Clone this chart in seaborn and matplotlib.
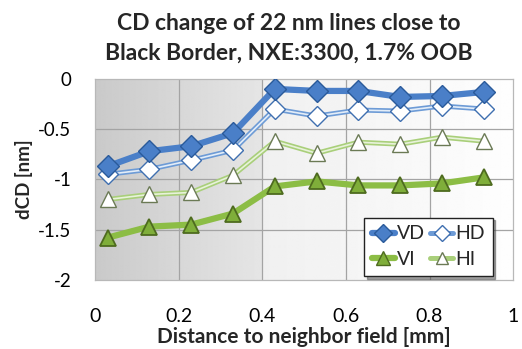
import numpy as np
import pandas as pd
import matplotlib
matplotlib.use("Agg")
import matplotlib.pyplot as plt
import seaborn as sns
from matplotlib.lines import Line2D

# ---- data ----
distance = [0.03, 0.13, 0.23, 0.33, 0.43, 0.53, 0.63, 0.73, 0.83, 0.93]
vd = [-0.87, -0.72, -0.67, -0.54, -0.10, -0.12, -0.12, -0.18, -0.17, -0.13]
hd = [-0.95, -0.90, -0.81, -0.71, -0.30, -0.37, -0.31, -0.32, -0.27, -0.30]
vi = [-1.58, -1.47, -1.45, -1.34, -1.07, -1.02, -1.06, -1.06, -1.04, -0.98]
hi = [-1.20, -1.15, -1.13, -0.96, -0.62, -0.74, -0.63, -0.65, -0.58, -0.62]
x_ticks = [0, 0.2, 0.4, 0.6, 0.8, 1]
x_tick_labels = ["0", "0.2", "0.4", "0.6", "0.8", "1"]
y_ticks = [0, -0.5, -1, -1.5, -2]
y_tick_labels = ["0", "-0.5", "-1", "-1.5", "-2"]
title = "CD change of 22 nm lines close to\nBlack Border, NXE:3300, 1.7% OOB"

df = pd.DataFrame({"x": distance, "VD": vd, "HD": hd, "VI": vi, "HI": hi})

sns.set_style("white")
plt.rcParams["font.family"] = ["Lato", "DejaVu Sans"]

fig = plt.figure(figsize=(5.22, 3.49), dpi=100)
ax = fig.add_axes([0.182, 0.198, 0.801, 0.576])

# background gradient
nx = 400
xs = np.linspace(0, 1, nx)
col = np.where(xs < 0.4, 0.79 + (0.90 - 0.79) * xs / 0.4,
               0.94 + (0.995 - 0.94) * (xs - 0.4) / 0.6)
img = np.tile(col, (20, 1))
ax.imshow(img, extent=[0, 1, -2, 0], origin="upper", cmap="gray", vmin=0, vmax=1,
          aspect="auto", zorder=0, interpolation="bilinear")

ax.set_xlim(0, 1)
ax.set_ylim(-2, 0)
ax.set_xticks(x_ticks)
ax.set_xticklabels(x_tick_labels)
ax.set_yticks(y_ticks)
ax.set_yticklabels(y_tick_labels)
for v in x_ticks[1:-1]:
    ax.axvline(v, color="#a4a4a4", lw=0.9, zorder=1)
for v in y_ticks[1:-1]:
    ax.axhline(v, color="#a4a4a4", lw=0.9, zorder=1)
for s in ax.spines.values():
    s.set_color("#b8b8b8")
    s.set_linewidth(0.9)

blue = "#4a7fc8"
blue_dark = "#2a5a9a"
green = "#8cbd45"
green_light = "#a9cf7a"
olive = "#4e6b1f"

# HI: light green double line, hollow triangles
sns.lineplot(data=df, x="x", y="HI", ax=ax, color=green_light, lw=3.6, zorder=3)
sns.lineplot(data=df, x="x", y="HI", ax=ax, color="#e8f2da", lw=1.2, zorder=3.1,
             marker="^", markersize=11, markerfacecolor="white",
             markeredgecolor="#6b7a55", markeredgewidth=1.0)
# VI: thick green with green triangles
sns.lineplot(data=df, x="x", y="VI", ax=ax, color=green, lw=4.5, zorder=4,
             marker="^", markersize=12, markerfacecolor="#7fae3a",
             markeredgecolor=olive, markeredgewidth=1.3)
# HD: blue double line, hollow diamonds
sns.lineplot(data=df, x="x", y="HD", ax=ax, color="#6d9bd6", lw=3.6, zorder=5)
sns.lineplot(data=df, x="x", y="HD", ax=ax, color="#e3edf8", lw=1.2, zorder=5.1,
             marker="D", markersize=10, markerfacecolor="white",
             markeredgecolor="#3f6fb0", markeredgewidth=1.0)
# VD: thick blue with blue diamonds
sns.lineplot(data=df, x="x", y="VD", ax=ax, color=blue, lw=4.5, zorder=6,
             marker="D", markersize=11, markerfacecolor=blue,
             markeredgecolor=blue_dark, markeredgewidth=1.0)

ax.set_xlabel("Distance to neighbor field [mm]", fontsize=15, fontweight="bold", labelpad=2)
ax.set_ylabel("dCD [nm]", fontsize=13.5, fontweight="bold", labelpad=4)
ax.tick_params(axis="x", labelsize=14, colors="black", length=0, pad=20)
ax.tick_params(axis="y", labelsize=13.5, colors="black", length=5, color="#b8b8b8",
               direction="out", width=0.9, pad=12)
fig.text(0.553, 0.962, title, fontsize=16.5, fontweight="bold", ha="center", va="top",
         linespacing=1.5)

handles = [
    Line2D([], [], color=blue, lw=4.5, marker="D", markersize=9, markerfacecolor=blue,
           markeredgecolor=blue_dark),
    Line2D([], [], color=green, lw=4.5, marker="^", markersize=10, markerfacecolor="#7fae3a",
           markeredgecolor=olive),
    Line2D([], [], color="#6d9bd6", lw=3.6, marker="D", markersize=8, markerfacecolor="white",
           markeredgecolor="#3f6fb0"),
    Line2D([], [], color=green_light, lw=3.6, marker="^", markersize=9, markerfacecolor="white",
           markeredgecolor="#6b7a55"),
]
leg = ax.legend(handles, ["VD", "VI", "HD", "HI"], ncol=2, loc="lower right",
                bbox_to_anchor=(0.96, 0.0), fontsize=14, frameon=True, fancybox=False,
                shadow=True, handlelength=1.2, handletextpad=0.1, columnspacing=0.25,
                borderpad=0.4, labelspacing=0.45, borderaxespad=0.2)
leg.get_frame().set_edgecolor("#222222")
leg.get_frame().set_linewidth(1.0)
leg.set_zorder(10)

fig.savefig("out.png", dpi=100)
